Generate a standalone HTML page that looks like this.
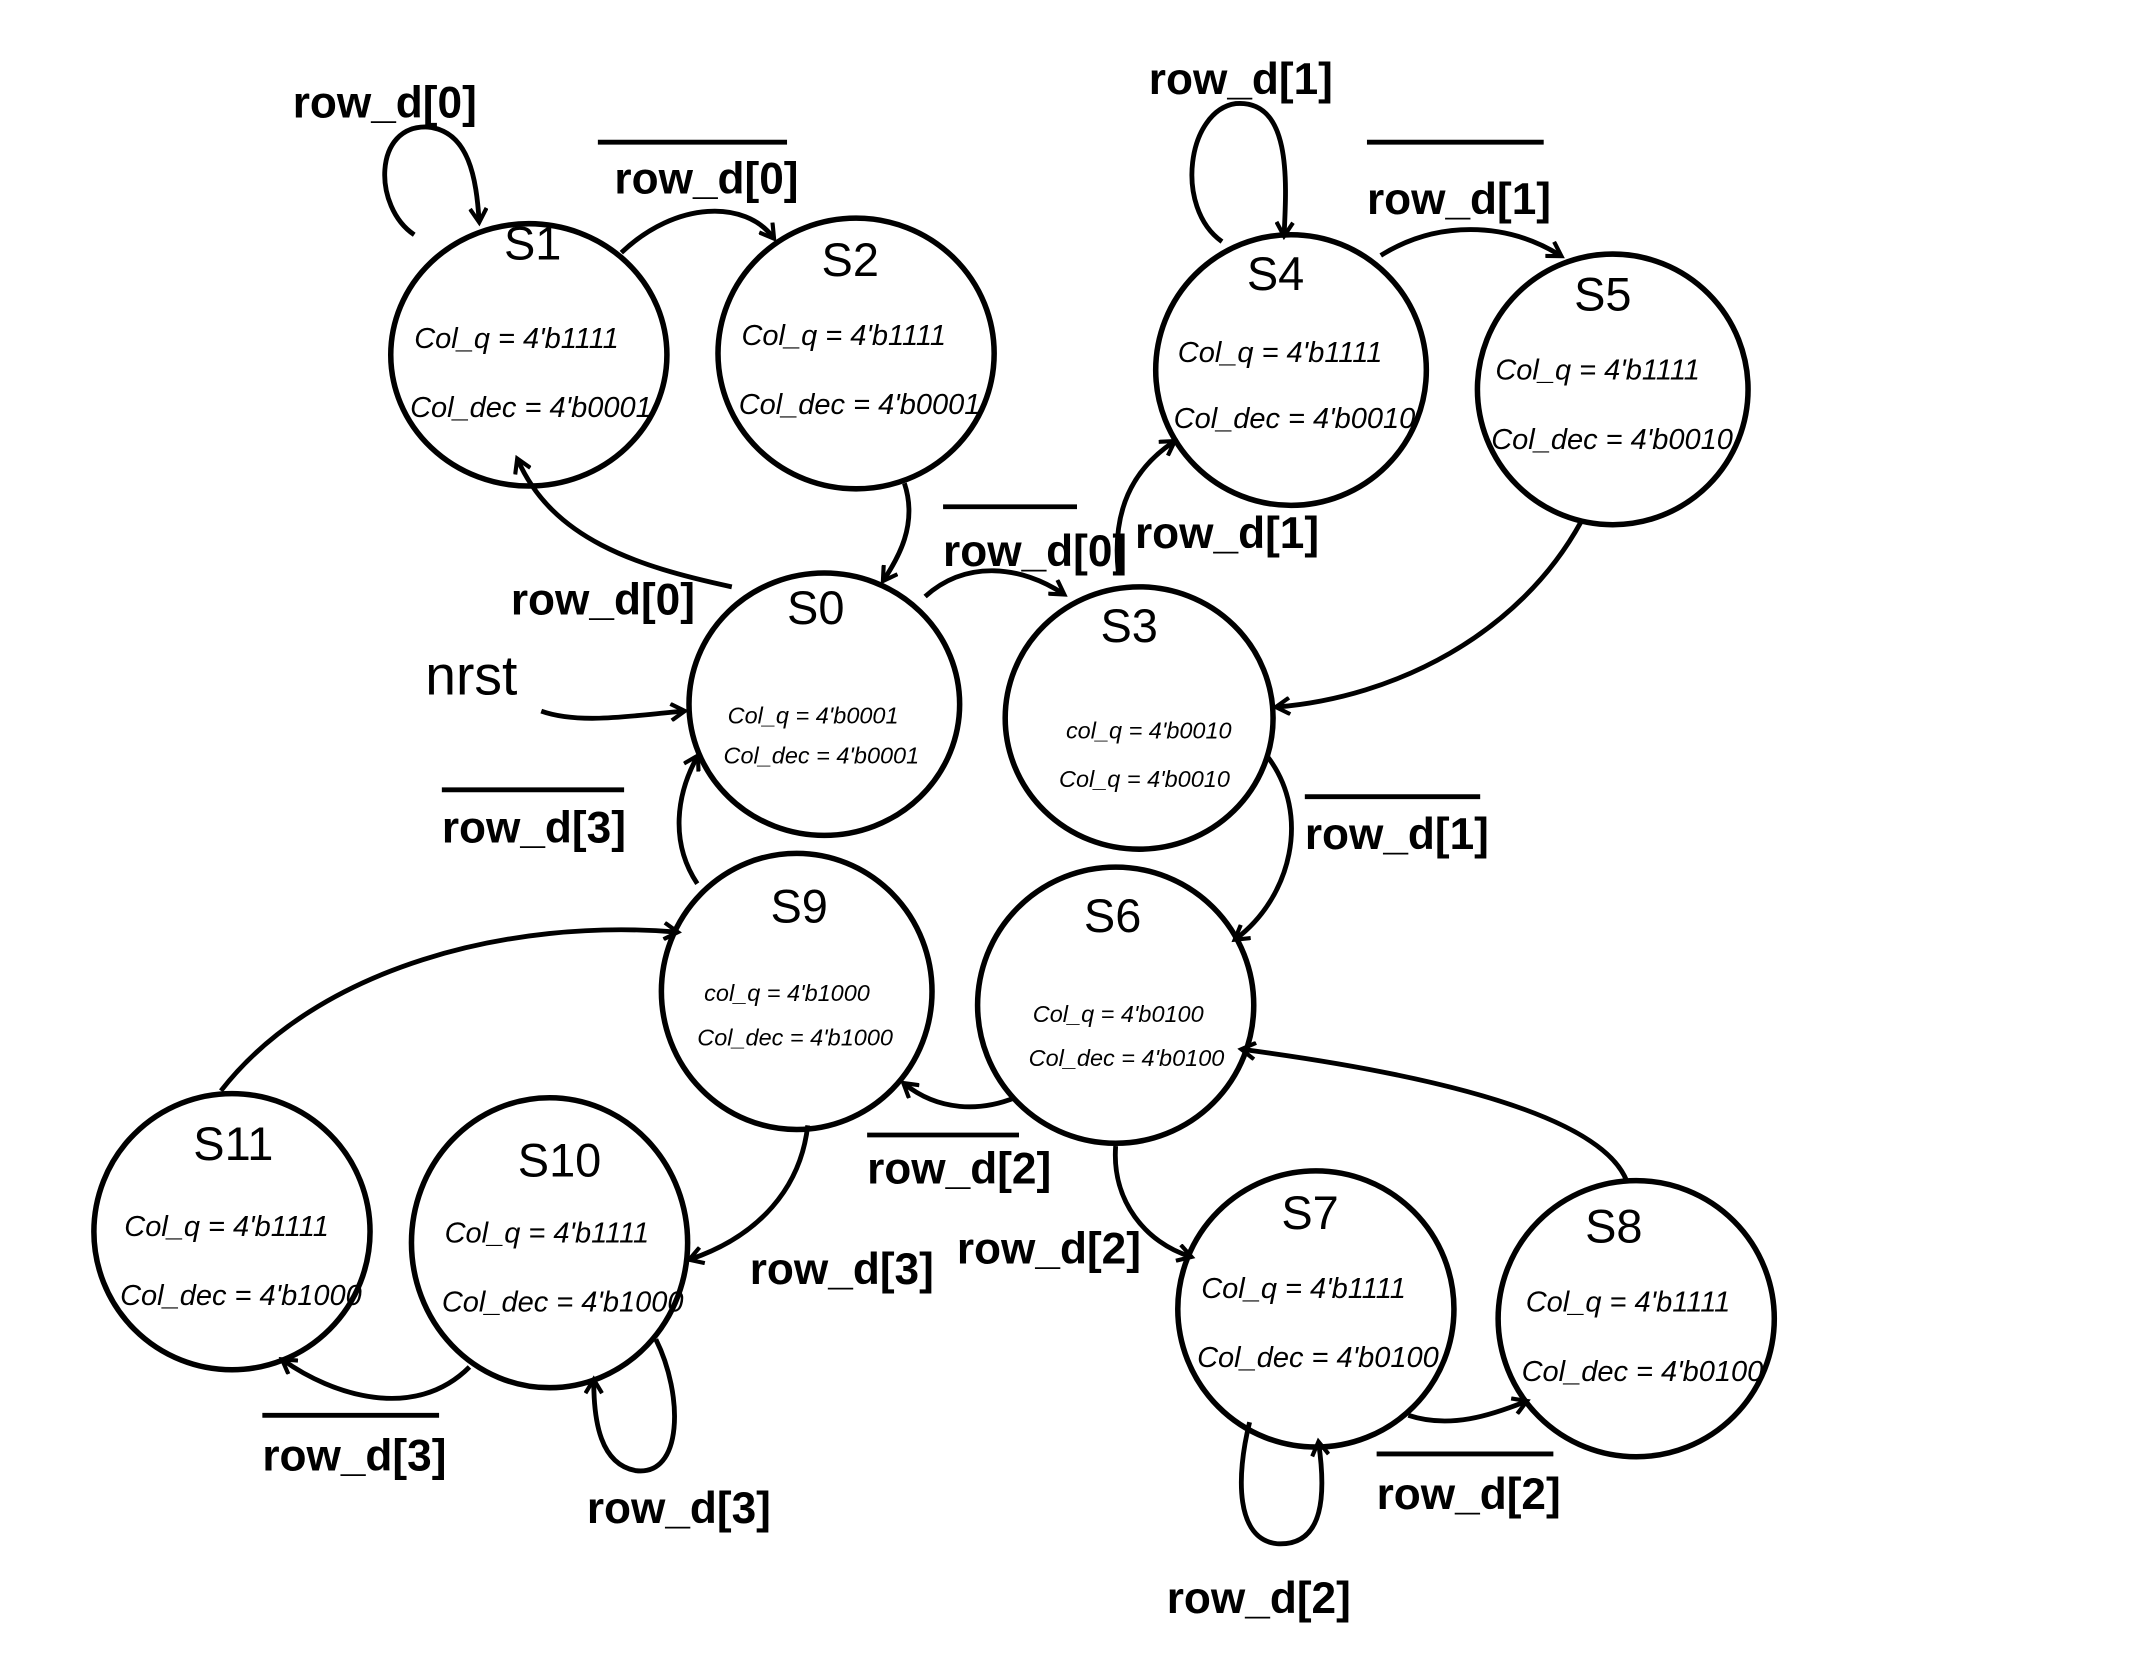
<!DOCTYPE html>
<html><head><meta charset="utf-8"><style>
html,body{margin:0;padding:0;background:#fff;}
svg{display:block;}
.st{font-family:"Liberation Sans",sans-serif;font-size:34px;fill:#000;}
.in{font-family:"Liberation Sans",sans-serif;font-size:21px;font-style:italic;fill:#000;}
.sm{font-family:"Liberation Sans",sans-serif;font-size:17px;font-style:italic;fill:#000;}
.lb{font-family:"Liberation Sans",sans-serif;font-size:32px;font-weight:bold;fill:#000;}
</style></head><body>
<svg width="2154" height="1668" viewBox="0 0 1560 1208" preserveAspectRatio="none" xmlns="http://www.w3.org/2000/svg">
<defs><marker id="a" markerWidth="14" markerHeight="14" refX="10" refY="7" orient="auto" markerUnits="userSpaceOnUse"><path d="M1,1 L11,7 L1,13" fill="none" stroke="#000" stroke-width="3"/></marker></defs>
<g fill="none" stroke="#000" stroke-width="4">
<ellipse cx="383" cy="257" rx="100" ry="95"/>
<ellipse cx="620" cy="256" rx="100" ry="98"/>
<ellipse cx="935" cy="268" rx="98" ry="98"/>
<ellipse cx="1168" cy="282" rx="98" ry="98"/>
<ellipse cx="597" cy="510" rx="98" ry="95"/>
<ellipse cx="825" cy="520" rx="97" ry="95"/>
<ellipse cx="577" cy="718" rx="98" ry="100"/>
<ellipse cx="808" cy="728" rx="100" ry="100"/>
<ellipse cx="168" cy="892" rx="100" ry="100"/>
<ellipse cx="398" cy="900" rx="100" ry="105"/>
<ellipse cx="953" cy="948" rx="100" ry="100"/>
<ellipse cx="1185" cy="955" rx="100" ry="100"/>
</g>
<g fill="none" stroke="#000" stroke-width="3.5" marker-end="url(#a)">
<path d="M300,170 C270,150 270,90 310,92 C340,95 345,130 347,160"/>
<path d="M450,183 C490,145 540,145 560,172"/>
<path d="M655,350 C665,380 650,405 640,420"/>
<path d="M530,425 C460,410 400,390 375,333"/>
<path d="M670,432 C700,405 740,410 770,430"/>
<path d="M392,515 C420,525 460,518 495,515"/>
<path d="M505,640 C485,610 490,575 505,548"/>
<path d="M810,415 C805,370 820,340 850,320"/>
<path d="M885,175 C850,150 860,80 895,75 C935,72 932,130 930,170"/>
<path d="M1000,185 C1040,160 1090,160 1130,185"/>
<path d="M1145,378 C1100,460 1010,505 925,512"/>
<path d="M918,548 C950,590 935,650 895,680"/>
<path d="M735,795 C710,805 680,805 655,785"/>
<path d="M585,815 C580,860 550,895 500,912"/>
<path d="M160,790 C230,700 370,665 490,675"/>
<path d="M340,990 C300,1030 240,1010 205,985"/>
<path d="M475,970 C495,1010 495,1070 460,1065 C435,1060 430,1030 430,1000"/>
<path d="M808,830 C805,870 830,900 862,910"/>
<path d="M1020,1025 C1050,1035 1080,1025 1105,1015"/>
<path d="M905,1030 C895,1070 895,1115 925,1118 C960,1120 960,1080 955,1045"/>
<path d="M1178,855 C1160,810 1050,780 900,760"/>
</g>
<g class="st">
<text x="365" y="188">S1</text><text x="595" y="200">S2</text>
<text x="903" y="210">S4</text><text x="1140" y="225">S5</text>
<text x="570" y="452">S0</text><text x="797" y="465">S3</text>
<text x="558" y="668">S9</text><text x="785" y="675">S6</text>
<text x="140" y="840">S11</text><text x="375" y="852">S10</text>
<text x="928" y="890">S7</text><text x="1148" y="900">S8</text>
</g>
<g class="in">
<text x="300" y="252">Col_q = 4'b1111</text><text x="297" y="302">Col_dec = 4'b0001</text>
<text x="537" y="250">Col_q = 4'b1111</text><text x="535" y="300">Col_dec = 4'b0001</text>
<text x="853" y="262">Col_q = 4'b1111</text><text x="850" y="310">Col_dec = 4'b0010</text>
<text x="1083" y="275">Col_q = 4'b1111</text><text x="1080" y="325">Col_dec = 4'b0010</text>
<text x="90" y="895">Col_q = 4'b1111</text><text x="87" y="945">Col_dec = 4'b1000</text>
<text x="322" y="900">Col_q = 4'b1111</text><text x="320" y="950">Col_dec = 4'b1000</text>
<text x="870" y="940">Col_q = 4'b1111</text><text x="867" y="990">Col_dec = 4'b0100</text>
<text x="1105" y="950">Col_q = 4'b1111</text><text x="1102" y="1000">Col_dec = 4'b0100</text>
</g>
<g class="sm">
<text x="527" y="524">Col_q = 4'b0001</text><text x="524" y="553">Col_dec = 4'b0001</text>
<text x="772" y="535">col_q = 4'b0010</text><text x="767" y="570">Col_q = 4'b0010</text>
<text x="510" y="725">col_q = 4'b1000</text><text x="505" y="757">Col_dec = 4'b1000</text>
<text x="748" y="740">Col_q = 4'b0100</text><text x="745" y="772">Col_dec = 4'b0100</text>
</g>
<g class="lb">
<text x="212" y="85">row_d[0]</text>
<text x="445" y="140">row_d[0]</text>
<text x="370" y="445">row_d[0]</text>
<text x="683" y="410">row_d[0]</text>
<text x="832" y="68">row_d[1]</text>
<text x="990" y="155">row_d[1]</text>
<text x="822" y="397">row_d[1]</text>
<text x="945" y="615">row_d[1]</text>
<text x="320" y="610">row_d[3]</text>
<text x="628" y="857">row_d[2]</text>
<text x="543" y="930">row_d[3]</text>
<text x="693" y="915">row_d[2]</text>
<text x="190" y="1065">row_d[3]</text>
<text x="425" y="1103">row_d[3]</text>
<text x="997" y="1093">row_d[2]</text>
<text x="845" y="1168">row_d[2]</text>
<text x="308" y="503" style="font-size:40px;font-weight:normal">nrst</text>
</g>
<g stroke="#000" stroke-width="3.5">
<line x1="433" y1="103" x2="570" y2="103"/>
<line x1="683" y1="367" x2="780" y2="367"/>
<line x1="990" y1="103" x2="1118" y2="103"/>
<line x1="945" y1="577" x2="1072" y2="577"/>
<line x1="320" y1="572" x2="452" y2="572"/>
<line x1="628" y1="822" x2="738" y2="822"/>
<line x1="190" y1="1025" x2="318" y2="1025"/>
<line x1="997" y1="1053" x2="1125" y2="1053"/>
</g>
</svg>
</body></html>
